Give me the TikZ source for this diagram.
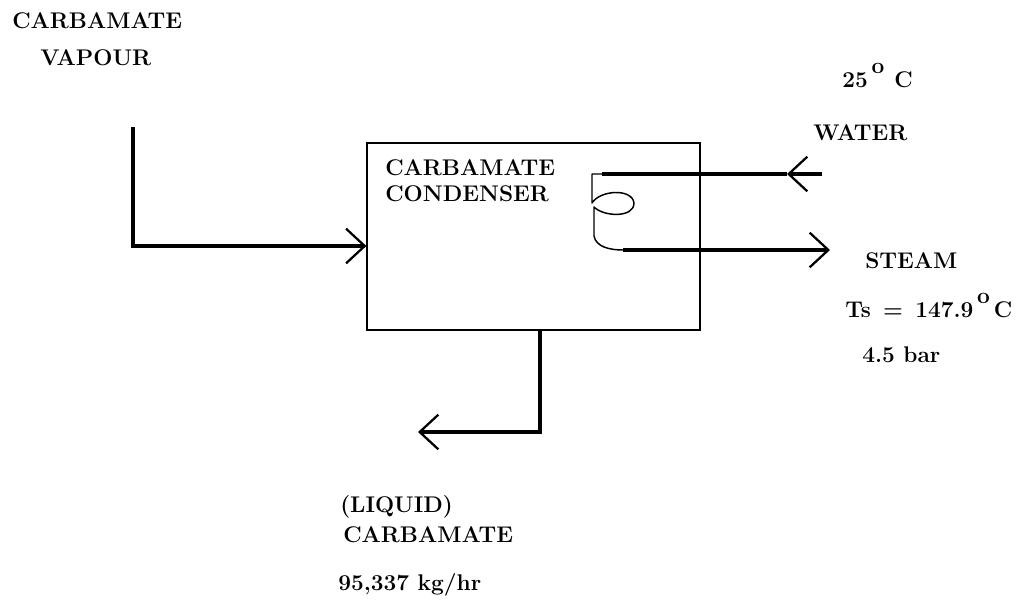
\documentclass[tikz,border=0pt]{standalone}
\usepackage{tikz}
\usetikzlibrary{arrows.meta}

\begin{document}
\begin{tikzpicture}[x=0.75pt, y=-0.75pt,
    pipe/.style={line width=2.3pt},
    barb/.style={-{Straight Barb[length=14pt, width=26pt, line width=1.7pt]}},
    coil/.style={line width=1.1pt, line join=round},
    lbl/.style={inner sep=0pt, font=\fontsize{17}{20}\selectfont\bfseries}]
  \useasboundingbox (0,0) rectangle (1028,600);

  \node[draw, line width=0.9pt, minimum width=249.75pt, minimum height=140.25pt] (cond) at (533.5,236.5) {};
  \node[lbl, anchor=base west, align=left] (condtxt) at (385,201) {CARBAMATE\\[-1pt]CONDENSER};

  % inlet vapour
  \node[lbl, anchor=base west] (vap1) at (12,28) {CARBAMATE};
  \node[lbl, anchor=base west] (vap2) at (40,65) {VAPOUR};
  \coordinate (vtop) at (133,127);
  \coordinate (vcorner) at (133,246);
  \draw[pipe, barb] (vtop) -- (vcorner) -- (vcorner -| cond.west);

  % cooling water and steam
  \node[lbl, anchor=base west] (wtemp) at (842,87) {25\,\raisebox{1.3ex}{o}\;\,C};
  \node[lbl, anchor=base west] (water) at (813,140) {WATER};
  \coordinate (win) at (822,174);
  \coordinate (wtip) at (787,174);
  \coordinate (ctop) at (602,174);
  \coordinate (cbot) at (623,250);
  \coordinate (sout) at (830,250);
  \draw[pipe, barb] (win) -- (wtip);
  \draw[pipe] (wtip) -- (ctop);
  \draw[coil] (ctop) -- (592,174) -- (592,203)
    .. controls (600,190) and (632,188) .. (634,203)
    .. controls (634,218) and (604,217) .. (594,207)
    -- (594,236) .. controls (596,247) and (610,250) .. (cbot);
  \draw[pipe, barb] (cbot) -- (sout);
  \node[lbl, anchor=base west] (steam) at (865,268) {STEAM};
  \node[lbl, anchor=base west] (tsat) at (845,317) {Ts \,=\, 147.9\,\raisebox{1.3ex}{o}\,C};
  \node[lbl, anchor=base west] (pres) at (862,362) {4.5 bar};

  % liquid outlet
  \coordinate (ldrop) at (540,432);
  \coordinate (lend) at (418,432);
  \draw[pipe, barb] (cond.south -| ldrop) -- (ldrop) -- (lend);
  \node[lbl, anchor=base west] (liq1) at (340,512) {(LIQUID)};
  \node[lbl, anchor=base west] (liq2) at (343,542) {CARBAMATE};
  \node[lbl, anchor=base west] (flow) at (338,590) {95,337 kg/hr};
\end{tikzpicture}
\end{document}
